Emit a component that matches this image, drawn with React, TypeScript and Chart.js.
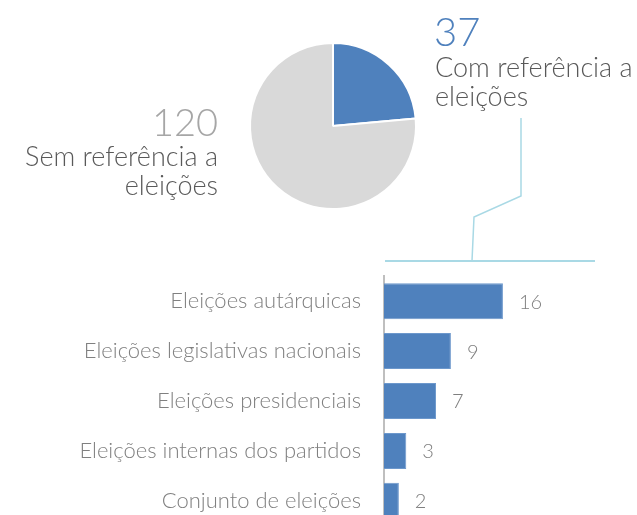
import React, { useEffect, useRef } from "react";
import { Chart, registerables } from "chart.js";

Chart.register(...registerables);

const pieLabels = ["Com referência a eleições", "Sem referência a eleições"];
const pieValues = [37, 120];
const pieColors = ["#4f81bd", "#d9d9d9"];

const barCategories = [
  "Eleições autárquicas",
  "Eleições legislativas nacionais",
  "Eleições presidenciais",
  "Eleições internas dos partidos",
  "Conjunto de eleições",
];
const barValues = [16, 9, 7, 3, 2];

const FONT = "Lato";
const W = 637;
const H = 515;
const TICK_FONT = 22;
const TICK_PAD = 23;
// vertical padding Chart.js adds around the category axis (half label height + tick padding)
const AXIS_PAD = (TICK_FONT * 1.2) / 2 + TICK_PAD;
const BAR_AREA_TOP = 276;
const BAR_AREA_H = 250;

export default function App() {
  const pieRef = useRef<HTMLCanvasElement>(null);
  const barRef = useRef<HTMLCanvasElement>(null);

  useEffect(() => {
    const annotations = {
      id: "annotations",
      afterDraw(chart: any) {
        const ctx = chart.ctx;
        ctx.save();
        // connector lines
        ctx.strokeStyle = "#a9d9e5";
        ctx.lineWidth = 1.5;
        ctx.beginPath();
        ctx.moveTo(521, 118);
        ctx.lineTo(521, 196);
        ctx.lineTo(474, 217);
        ctx.lineTo(472, 261);
        ctx.stroke();
        ctx.lineWidth = 2;
        ctx.beginPath();
        ctx.moveTo(385, 261);
        ctx.lineTo(595, 261);
        ctx.stroke();

        ctx.textBaseline = "alphabetic";
        // right label
        ctx.textAlign = "left";
        ctx.fillStyle = "#4f81bd";
        ctx.font = `300 40px ${FONT}`;
        ctx.fillText(String(pieValues[0]), 434, 46);
        ctx.fillStyle = "#595959";
        ctx.font = `300 27px ${FONT}`;
        ctx.fillText("Com referência a", 435, 77);
        ctx.fillText("eleições", 435, 106);
        // left label
        ctx.textAlign = "right";
        ctx.fillStyle = "#a6a6a6";
        ctx.font = `300 38px ${FONT}`;
        ctx.fillText(String(pieValues[1]), 218, 136);
        ctx.fillStyle = "#595959";
        ctx.font = `300 27px ${FONT}`;
        ctx.fillText("Sem referência a", 218, 166);
        ctx.fillText("eleições", 218, 195);
        ctx.restore();
      },
    };

    const pie = new Chart(pieRef.current!, {
      type: "pie",
      data: {
        labels: pieLabels,
        datasets: [
          {
            data: pieValues,
            backgroundColor: pieColors,
            borderColor: "#ffffff",
            borderWidth: 2,
          },
        ],
      },
      options: {
        responsive: false,
        animation: false,
        layout: { padding: { left: 249, top: 42, right: 220, bottom: 305 } },
        plugins: { legend: { display: false }, tooltip: { enabled: false } },
      },
      plugins: [annotations],
    });

    const valueLabels = {
      id: "valueLabels",
      afterDatasetsDraw(chart: any) {
        const ctx = chart.ctx;
        const meta = chart.getDatasetMeta(0);
        ctx.save();
        ctx.fillStyle = "#7f7f7f";
        ctx.font = `300 20px ${FONT}`;
        ctx.textAlign = "left";
        ctx.textBaseline = "middle";
        meta.data.forEach((el: any, i: number) => {
          ctx.fillText(String(barValues[i]), el.x + 16, el.y + 1);
        });
        ctx.restore();
      },
    };

    const bar = new Chart(barRef.current!, {
      type: "bar",
      data: {
        labels: barCategories,
        datasets: [
          {
            data: barValues,
            backgroundColor: "#4f81bd",
            borderColor: "#6d98cc",
            borderWidth: 1,
            barPercentage: 0.72,
            categoryPercentage: 1,
          },
        ],
      },
      options: {
        indexAxis: "y",
        responsive: false,
        animation: false,
        layout: { padding: { left: 0, right: 30, top: 0, bottom: 0 } },
        scales: {
          x: { display: false, min: 0, max: 30 },
          y: {
            grid: { display: false, drawTicks: false },
            border: { display: true, color: "#bfbfbf", width: 2 },
            ticks: {
              color: "#808080",
              font: { family: FONT, size: TICK_FONT, weight: "300" as any },
              padding: TICK_PAD,
            },
            afterFit(scale: any) {
              scale.width = 384;
            },
          },
        },
        plugins: { legend: { display: false }, tooltip: { enabled: false } },
      },
      plugins: [valueLabels],
    });

    return () => {
      pie.destroy();
      bar.destroy();
    };
  }, []);

  return (
    <div
      style={{
        position: "fixed",
        left: 0,
        top: 0,
        width: W,
        height: H,
        overflow: "hidden",
        background: "#ffffff",
      }}
    >
      <canvas
        ref={pieRef}
        width={W}
        height={H}
        style={{ position: "absolute", left: 0, top: 0 }}
      />
      <canvas
        ref={barRef}
        width={W}
        height={Math.round(BAR_AREA_H + 2 * AXIS_PAD)}
        style={{
          position: "absolute",
          left: 0,
          top: Math.round(BAR_AREA_TOP - AXIS_PAD),
        }}
      />
    </div>
  );
}
